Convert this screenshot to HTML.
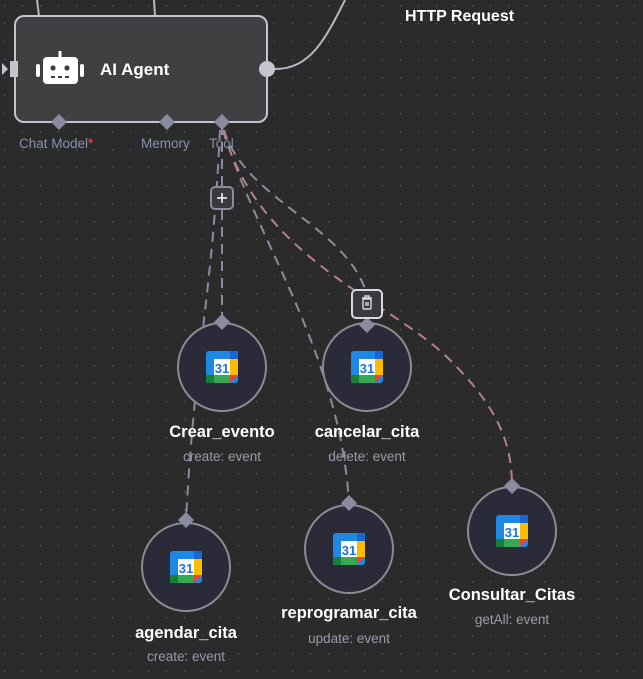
<!DOCTYPE html>
<html><head><meta charset="utf-8"><style>
html,body{margin:0;padding:0;background:#2b2b2c;}
svg{display:block;font-family:"Liberation Sans",sans-serif;}
</style></head><body>
<svg width="643" height="679" viewBox="0 0 643 679" xmlns="http://www.w3.org/2000/svg">
<defs>
<pattern id="dots" x="4" y="5" width="18" height="18" patternUnits="userSpaceOnUse">
<rect x="0" y="0" width="1.3" height="1.3" fill="#5a5a5c"/>
</pattern>
<g id="cal">
<rect x="0" y="0" width="32" height="32" rx="3" fill="#1e88e5"/>
<rect x="24" y="8" width="8" height="16" fill="#fbbc04"/>
<rect x="0" y="24" width="24" height="8" fill="#34a853"/>
<rect x="0" y="24" width="8" height="8" fill="#188038"/>
<path d="M24 24 L32 24 L24 32Z" fill="#ea4335"/>
<rect x="24" y="0" width="8" height="8" fill="#1967d2"/>
<rect x="8" y="8" width="16" height="16" fill="#fff"/>
<text x="16" y="22" font-size="13" font-weight="bold" fill="#1a73e8" text-anchor="middle">31</text>
</g>
</defs>
<rect width="643" height="679" fill="url(#dots)"/>

<path d="M37 0 L39 16" stroke="#b8b8c4" stroke-width="2" fill="none"/>
<path d="M154 0 L155 16" stroke="#b8b8c4" stroke-width="2" fill="none"/>
<path d="M275 69 C310 69 325 40 345 0" stroke="#b8b8c4" stroke-width="2" fill="none"/>
<text x="405" y="21" font-size="16" font-weight="bold" fill="#fff">HTTP Request</text>

<g fill="none" stroke-width="2" stroke-dasharray="10 7">
<path d="M222 125 L222 322" stroke="#8b8ba0"/>
<path d="M220 130 C212 300 195 350 186 520" stroke="#8b8ba0"/>
<path d="M224 130 C245 200 345 225 366 292" stroke="#8b8ba0"/>
<path d="M224 130 C250 230 340 350 349 503" stroke="#8b8ba0"/>
<path d="M223 130 C260 260 390 300 450 360 C495 405 512 440 512 486" stroke="#b58088"/>
</g>

<rect x="15" y="16" width="252" height="106" rx="9" fill="#404043" stroke="#c4c4d0" stroke-width="2"/>
<rect x="10" y="61" width="8" height="16" fill="#c4c4d0"/>
<path d="M2 63 L8 69 L2 75Z" fill="#c4c4d0"/>
<circle cx="267" cy="69" r="8" fill="#c4c4d0"/>
<g fill="#fff">
<rect x="43" y="57" width="35" height="27" rx="4"/>
<rect x="36" y="64" width="4" height="13" rx="2"/>
<rect x="80" y="64" width="4" height="13" rx="2"/>
<rect x="58.5" y="51" width="3" height="7"/>
</g>
<circle cx="53" cy="68" r="2.6" fill="#404043"/>
<circle cx="67" cy="68" r="2.6" fill="#404043"/>
<g fill="#404043"><rect x="51" y="76" width="4" height="2"/><rect x="58" y="76" width="4" height="2"/><rect x="65" y="76" width="4" height="2"/></g>
<text x="100" y="75" font-size="17" font-weight="bold" fill="#fff">AI Agent</text>
<g fill="#8b8ba0">
<path d="M59 114 L67 122 L59 130 L51 122Z"/>
<path d="M167 114 L175 122 L167 130 L159 122Z"/>
<path d="M222 114 L230 122 L222 130 L214 122Z"/>
</g>
<g font-size="13.5" fill="#8890b0">
<text x="19" y="148">Chat Model<tspan fill="#ff4d4d">*</tspan></text>
<text x="141" y="148">Memory</text>
<text x="209" y="148">Tool</text>
</g>

<rect x="211" y="187" width="22" height="22" rx="4" fill="#3a3a3c" stroke="#8b8ba0" stroke-width="2"/>
<path d="M222 193 V203 M217 198 H227" stroke="#fff" stroke-width="1.5"/>

<g stroke="#8b8b94" stroke-width="2" fill="#2a2a38">
<circle cx="222" cy="367" r="44"/>
<circle cx="367" cy="367" r="44"/>
<circle cx="186" cy="567" r="44"/>
<circle cx="349" cy="549" r="44"/>
<circle cx="512" cy="531" r="44"/>
</g>
<g fill="#8b8ba0">
<path d="M222 314 L230 322 L222 330 L214 322Z"/>
<path d="M367 317 L375 325 L367 333 L359 325Z"/>
<path d="M186 512 L194 520 L186 528 L178 520Z"/>
<path d="M349 495 L357 503 L349 511 L341 503Z"/>
<path d="M512 478 L520 486 L512 494 L504 486Z"/>
</g>
<rect x="352" y="290" width="30" height="28" rx="4" fill="#3a3a3c" stroke="#d8d8e0" stroke-width="2"/>
<g stroke="#d8d8e0" stroke-width="1.4" fill="none">
<path d="M362 298 H372 M365 298 V296 H369 V298"/>
<rect x="363" y="299" width="8" height="10" rx="1"/>
<path d="M366 302 V306 M368 302 V306"/>
</g>

<use href="#cal" x="206" y="351"/>
<use href="#cal" x="351" y="351"/>
<use href="#cal" x="170" y="551"/>
<use href="#cal" x="333" y="533"/>
<use href="#cal" x="496" y="515"/>

<g text-anchor="middle">
<text x="222" y="437" font-size="16.5" font-weight="bold" fill="#fff">Crear_evento</text>
<text x="222" y="461" font-size="13.5" fill="#9a9aa8">create: event</text>
<text x="367" y="437" font-size="16.5" font-weight="bold" fill="#fff">cancelar_cita</text>
<text x="367" y="461" font-size="13.5" fill="#9a9aa8">delete: event</text>
<text x="186" y="638" font-size="16.5" font-weight="bold" fill="#fff">agendar_cita</text>
<text x="186" y="661" font-size="13.5" fill="#9a9aa8">create: event</text>
<text x="349" y="618" font-size="16.5" font-weight="bold" fill="#fff">reprogramar_cita</text>
<text x="349" y="643" font-size="13.5" fill="#9a9aa8">update: event</text>
<text x="512" y="600" font-size="16.5" font-weight="bold" fill="#fff">Consultar_Citas</text>
<text x="512" y="624" font-size="13.5" fill="#9a9aa8">getAll: event</text>
</g>
</svg>
</body></html>
